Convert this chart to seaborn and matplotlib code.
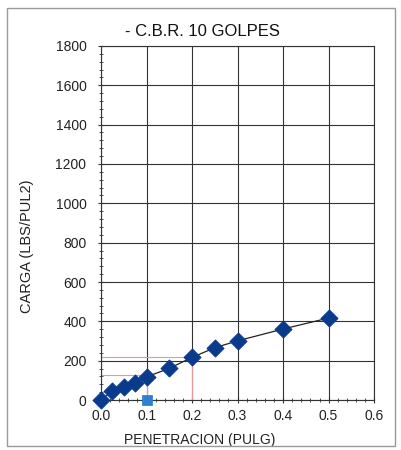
import matplotlib
matplotlib.use("Agg")
import matplotlib.pyplot as plt
import seaborn as sns
import pandas as pd
from matplotlib.ticker import MultipleLocator
from matplotlib.patches import Rectangle

sns.set_style("white", {"xtick.bottom": True, "ytick.left": True})
plt.rcParams['font.family'] = ['Liberation Sans', 'DejaVu Sans']

penetracion = [0.0, 0.025, 0.05, 0.075, 0.1, 0.15, 0.2, 0.25, 0.3, 0.4, 0.5]
carga = [0, 47, 65, 85, 118, 161, 217, 266, 301, 361, 417]
ref_x = [0.1, 0.2]
ref_y = [127, 218]
marker_x = [0.1]
marker_y = [0]

df = pd.DataFrame({"PENETRACION": penetracion, "CARGA": carga})

fig = plt.figure(figsize=(4.01, 4.5), dpi=100)
fig.patches.append(Rectangle((0.017, 0.008), 0.968, 0.975, transform=fig.transFigure,
                             fill=False, edgecolor="#999999", linewidth=1.0))
ax = fig.add_axes([0.252, 0.111, 0.681, 0.787])

# reference red lines
for rx, ry in zip(ref_x, ref_y):
    ax.plot([0, rx], [ry, ry], color="#e59a9a", linewidth=0.8, zorder=1)
    ax.plot([rx, rx], [0, ry], color="#e59a9a", linewidth=0.8, zorder=1)

sns.lineplot(data=df, x="PENETRACION", y="CARGA", ax=ax, color="#222222",
             linewidth=0.9, zorder=3)
sns.scatterplot(data=df, x="PENETRACION", y="CARGA", ax=ax, marker="D", s=75,
                color="#0a3a8c", edgecolor="#0a3a8c", zorder=4, clip_on=False)
sns.scatterplot(x=marker_x, y=marker_y, ax=ax, marker="s", s=45,
                color="#2f7fd0", edgecolor="#2f7fd0", zorder=4, clip_on=False)

ax.set_xlim(0, 0.6)
ax.set_ylim(0, 1800)
ax.xaxis.set_major_locator(MultipleLocator(0.1))
ax.xaxis.set_minor_locator(MultipleLocator(0.02))
ax.yaxis.set_major_locator(MultipleLocator(200))
ax.yaxis.set_minor_locator(MultipleLocator(40))
ax.set_xticklabels([f"{v:.1f}" for v in ax.get_xticks()])
ax.grid(True, which="major", color="#333333", linewidth=0.8)
ax.set_axisbelow(True)
for s in ax.spines.values():
    s.set_color("#333333")
    s.set_linewidth(0.8)
ax.tick_params(axis="both", which="both", direction="inout", colors="#333333",
               labelcolor="#222222", labelsize=10)
ax.tick_params(axis="y", which="major", length=5, pad=8)
ax.tick_params(axis="x", which="major", length=5, pad=4)
ax.tick_params(which="minor", length=3)

fig.text(0.504, 0.931, "- C.B.R. 10 GOLPES", fontsize=12, color="#111111",
         ha="center", va="center")
ax.set_xlabel("PENETRACION (PULG)", fontsize=10, color="#222222")
ax.xaxis.set_label_coords(0.363, -0.113)
ax.xaxis.label.set_va("center")
ax.set_ylabel("CARGA (LBS/PUL2)", fontsize=10.5, color="#222222")
ax.yaxis.set_label_coords(-0.271, 0.435)
ax.yaxis.label.set_va("center")

fig.savefig("out.png", dpi=100)
